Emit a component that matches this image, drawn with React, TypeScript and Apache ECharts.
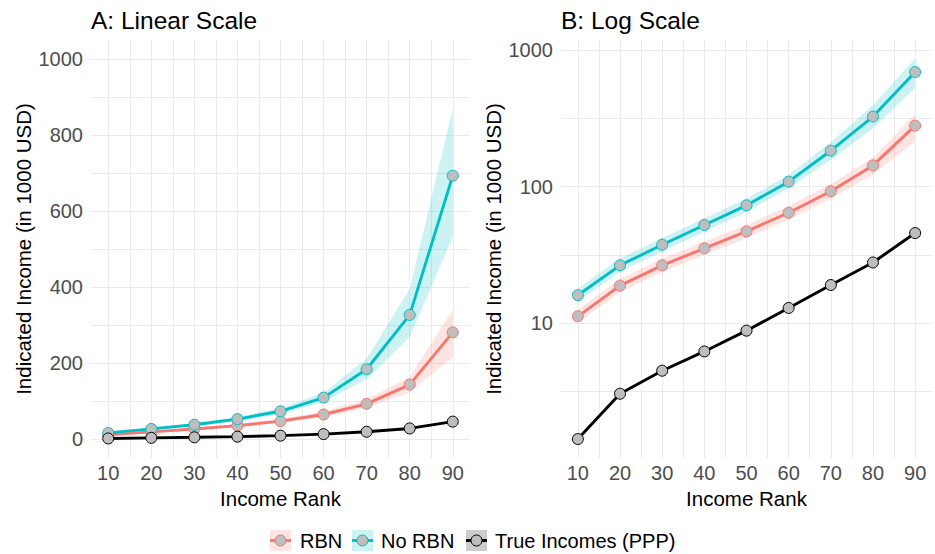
import { useEffect, useRef } from "react";
import * as echarts from "echarts";

const ranks = [10, 20, 30, 40, 50, 60, 70, 80, 90];
const rbn = [11.2, 18.8, 26.5, 35.3, 47.0, 64.4, 92.5, 143.2, 280.5];
const rbnLower = [10.0, 16.8, 23.7, 31.5, 42.0, 57.5, 82, 123, 215];
const rbnUpper = [12.5, 21.1, 29.7, 39.5, 52.6, 72.1, 104.5, 163, 340];
const noRbn = [16.0, 26.5, 37.5, 52.4, 73.0, 108.9, 183.6, 326.6, 693];
const noRbnLower = [14.3, 23.7, 33.5, 46.8, 65.2, 97.2, 157, 268, 532];
const noRbnUpper = [17.9, 29.7, 42.0, 58.7, 81.8, 122, 212, 395, 870];
const trueInc = [1.41, 3.03, 4.47, 6.19, 8.79, 12.9, 19.0, 27.8, 45.7];

const linearGridVals = [0, 100, 200, 300, 400, 500, 600, 700, 800, 900, 1000];
const logGridVals = [3.1623, 10, 31.623, 100, 316.23, 1000];
const xGridVals = [10, 15, 20, 25, 30, 35, 40, 45, 50, 55, 60, 65, 70, 75, 80, 85, 90];

const seriesNames = ["RBN", "No RBN", "True Incomes (PPP)"];
const colors = ["#F8766D", "#00BFC4", "#000000"];
const bandFills = ["rgba(248,118,109,0.2)", "rgba(0,191,196,0.2)", "rgba(0,0,0,0.2)"];
const pointFill = "#BEBEBE";
const FONT = "Liberation Sans, Arial, Helvetica, sans-serif";

function App() {
  const ref = useRef<HTMLDivElement>(null);
  useEffect(() => {
    const chart = echarts.init(ref.current!, null, { renderer: "svg" });

    const pair = (ys: number[]) => ranks.map((r, i) => [r, ys[i]]);

    const ribbon = (grid: number, lower: number[], upper: number[], fill: string, withGrid: boolean) => {
      const s: any = {
        type: "custom",
        xAxisIndex: grid,
        yAxisIndex: grid,
        z: 1,
        silent: true,
        clip: true,
        data: [[ranks[0], upper[0]]],
        encode: { x: 0, y: 1 },
        renderItem: (_params: any, api: any) => {
          const pts: number[][] = [];
          for (let i = 0; i < ranks.length; i++) pts.push(api.coord([ranks[i], upper[i]]));
          for (let i = ranks.length - 1; i >= 0; i--) pts.push(api.coord([ranks[i], lower[i]]));
          return { type: "polygon", shape: { points: pts }, style: { fill } };
        },
      };
      if (withGrid) {
        const yVals = grid === 0 ? linearGridVals : logGridVals;
        s.markLine = {
          silent: true,
          z: 0,
          symbol: ["none", "none"],
          label: { show: false },
          emphasis: { disabled: true },
          lineStyle: { color: "#EBEBEB", width: 1, type: "solid" },
          data: [
            ...yVals.map((v) => ({ yAxis: v })),
            ...xGridVals.map((v) => ({ xAxis: v })),
          ],
        };
      }
      return s;
    };

    const line = (grid: number, ys: number[], k: number) => ({
      type: "line",
      name: seriesNames[k],
      xAxisIndex: grid,
      yAxisIndex: grid,
      z: 3,
      data: pair(ys),
      symbol: "circle",
      symbolSize: 11,
      showSymbol: true,
      lineStyle: { color: colors[k], width: 2.9 },
      itemStyle: { color: pointFill, borderColor: colors[k], borderWidth: 1 },
      emphasis: { disabled: true },
      silent: true,
    });

    const axisLabel = { color: "#4D4D4D", fontSize: 20, fontFamily: FONT };
    const nameStyle = { color: "#000000", fontSize: 20.5, fontFamily: FONT, verticalAlign: "middle" };

    const xAxis = (grid: number) => ({
      type: "value",
      gridIndex: grid,
      min: 6,
      max: 94,
      interval: 2,
      axisLine: { show: false },
      axisTick: { show: false },
      splitLine: { show: false },
      axisLabel: {
        ...axisLabel,
        margin: 15,
        verticalAlign: "middle",
        formatter: (v: number) => (Math.abs(v % 10) < 1e-9 && v >= 10 && v <= 90 ? String(v) : ""),
      },
      name: "Income Rank",
      nameLocation: "middle",
      nameGap: 37,
      nameTextStyle: nameStyle,
    });

    const option: any = {
      animation: false,
      backgroundColor: "#FFFFFF",
      textStyle: { fontFamily: FONT },
      grid: [
        { left: 91, top: 40, width: 379, height: 418, containLabel: false },
        { left: 561, top: 40, width: 380, height: 418, containLabel: false },
      ],
      xAxis: [xAxis(0), xAxis(1)],
      yAxis: [
        {
          type: "value",
          gridIndex: 0,
          min: -50,
          max: 1050,
          interval: 50,
          axisLine: { show: false },
          axisTick: { show: false },
          splitLine: { show: false },
          axisLabel: {
            ...axisLabel,
            margin: 8,
            formatter: (v: number) => (v >= 0 && Math.abs(v % 200) < 1e-9 ? String(v) : ""),
          },
          name: "Indicated Income (in 1000 USD)",
          nameLocation: "middle",
          nameGap: 68,
          nameTextStyle: nameStyle,
        },
        {
          type: "log",
          logBase: 10,
          gridIndex: 1,
          min: 1.0233,
          max: 1191,
          axisLine: { show: false },
          axisTick: { show: false },
          splitLine: { show: false },
          axisLabel: {
            ...axisLabel,
            margin: 8,
            showMinLabel: false,
            showMaxLabel: false,
            formatter: (v: number) => {
              const l = Math.log10(v);
              return Math.abs(l - Math.round(l)) < 1e-6 && v >= 10 ? String(Math.round(v)) : "";
            },
          },
          name: "Indicated Income (in 1000 USD)",
          nameLocation: "middle",
          nameGap: 68,
          nameTextStyle: nameStyle,
        },
      ],
      series: [
        ribbon(0, rbnLower, rbnUpper, bandFills[0], true),
        ribbon(0, noRbnLower, noRbnUpper, bandFills[1], false),
        line(0, rbn, 0),
        line(0, noRbn, 1),
        line(0, trueInc, 2),
        ribbon(1, rbnLower, rbnUpper, bandFills[0], true),
        ribbon(1, noRbnLower, noRbnUpper, bandFills[1], false),
        line(1, rbn, 0),
        line(1, noRbn, 1),
        line(1, trueInc, 2),
      ],
      graphic: [
        {
          type: "text",
          left: 91,
          top: 8,
          style: { text: "A: Linear Scale", fontSize: 24.5, fontFamily: FONT, fill: "#000" },
        },
        {
          type: "text",
          left: 561,
          top: 8,
          style: { text: "B: Log Scale", fontSize: 24.5, fontFamily: FONT, fill: "#000" },
        },
        ...[270, 352, 466].flatMap((kx, k) => [
          {
            type: "rect",
            shape: { x: kx, y: 530, width: 21, height: 21 },
            style: { fill: bandFills[k] },
            silent: true,
          },
          {
            type: "line",
            shape: { x1: kx, y1: 540.5, x2: kx + 21, y2: 540.5 },
            style: { stroke: colors[k], lineWidth: 2.9 },
            silent: true,
          },
          {
            type: "circle",
            shape: { cx: kx + 10.5, cy: 540.5, r: 5.5 },
            style: { fill: pointFill, stroke: colors[k], lineWidth: 1 },
            silent: true,
          },
        ]),
        ...[300, 381, 495].map((tx, k) => ({
          type: "text",
          x: tx,
          y: 540.5,
          style: {
            text: seriesNames[k],
            fontSize: 20,
            fontFamily: FONT,
            fill: "#000",
            verticalAlign: "middle",
            align: "left",
          },
          silent: true,
        })),
      ],
    };

    chart.setOption(option);
    return () => chart.dispose();
  }, []);

  return (
    <div
      ref={ref}
      style={{ position: "fixed", left: 0, top: 0, width: 935, height: 554, background: "#fff" }}
    />
  );
}

export default App;
